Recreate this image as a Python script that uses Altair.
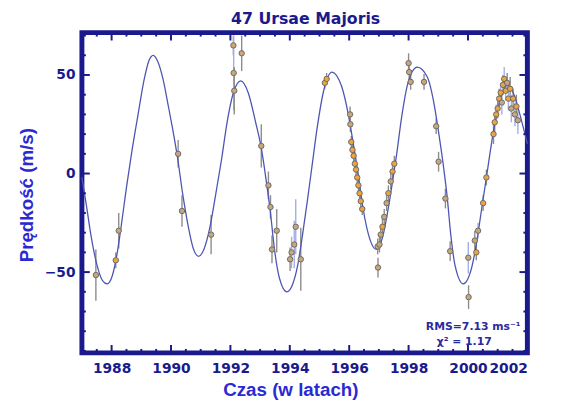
import altair as alt
import pandas as pd

# ---------------- data ----------------
title_text = ["47 Ursae Majoris"]
x_title = ["Czas (w latach)"]
y_title = ["Prędkość (m/s)"]
note_rms = ["RMS=7.13 ms⁻¹"]
note_chi = ["χ² = 1.17"]

# fitted orbit curve
curve_year = [1987.00, 1987.15, 1987.30, 1987.50, 1987.68, 1987.85, 1988.02, 1988.18, 1988.32, 1988.50,
              1988.70, 1988.88, 1989.10, 1989.25, 1989.40, 1989.55, 1989.73, 1989.90, 1990.05, 1990.22,
              1990.40, 1990.57, 1990.75, 1990.93, 1991.12, 1991.30, 1991.49, 1991.70, 1991.90, 1992.10,
              1992.35, 1992.60, 1992.85, 1993.04, 1993.20, 1993.35, 1993.48, 1993.65, 1993.90, 1994.10,
              1994.26, 1994.42, 1994.59, 1994.75, 1994.92, 1995.14, 1995.42, 1995.75, 1995.97, 1996.14,
              1996.30, 1996.47, 1996.69, 1996.91, 1997.13, 1997.30, 1997.46, 1997.60, 1997.76, 1997.98,
              1998.29, 1998.63, 1998.85, 1999.01, 1999.18, 1999.30, 1999.42, 1999.57, 1999.84, 2000.12,
              2000.29, 2000.45, 2000.62, 2000.89, 2001.10, 2001.33, 2001.55, 2001.80, 2002.00]
curve_vel = [-2, -16, -31, -46, -54, -56, -52, -41, -27, -7,
             13, 29, 48, 57, 60, 57, 48, 35, 23, 8,
             -11, -26, -38, -42, -38, -28, -12, 7, 27, 41,
             47, 41, 26, 13, -3, -20, -38, -53, -60, -56,
             -47, -32, -14, 4, 23, 42, 51.5, 44, 30, 15,
             0, -18, -33, -38.5, -32, -19, -4, 10, 28, 46,
             54, 49, 36, 21, 3, -12, -31, -47, -56, -48,
             -35, -19, -2, 24, 38, 45, 40, 27, 15]

# observations: time, velocity, error, fill group, error-bar group
obs_year = [1987.47, 1988.14, 1988.24, 1990.24, 1990.37, 1991.35,
            1992.10, 1992.38, 1992.11, 1992.13, 1993.04, 1993.28, 1993.35, 1993.40, 1993.56,
            1994.01, 1994.06, 1994.15, 1994.20, 1994.37,
            1995.18, 1995.24, 1996.03, 1996.04,
            1996.07, 1996.11, 1996.15, 1996.19, 1996.23, 1996.27, 1996.31, 1996.35, 1996.39, 1996.44,
            1996.96, 1996.97, 1997.02, 1997.06, 1997.12, 1997.18, 1997.26, 1997.32, 1997.40, 1997.46, 1997.52,
            1998.00, 1998.02, 1998.07, 1998.52, 1998.93, 1999.01, 1999.24, 1999.40,
            2000.01, 2000.02, 2000.23, 2000.28, 2000.34, 2000.51, 2000.62,
            2000.86, 2000.90, 2000.95, 2001.00, 2001.05, 2001.10, 2001.14, 2001.18, 2001.22,
            2001.27, 2001.32, 2001.36, 2001.42, 2001.46, 2001.52, 2001.58, 2001.63, 2001.68]
obs_vel = [-51.5, -44, -29, 10, -19, -31,
           65, 61, 51, 42, 14, -6, -17, -38.5, -29,
           -43.5, -40, -36, -27, -43.5,
           46, 48, 30, 25,
           16, 12, 9, 5, 2, -2, -6, -10, -14, -18,
           -37, -47.7, -36, -31, -27, -22, -15, -10, -4, 1, 5,
           56, 51.5, 46.5, 46.5, 24, 6, -12.7, -39.4,
           -42.7, -62.7, -34, -40, -29, -15, -2,
           20, 26, 30, 33, 38, 41, 36, 45, 48,
           42, 46, 38, 43, 33, 38, 30, 34, 27]
obs_err = [13, 4, 9, 7, 8, 10,
           5, 9, 19, 12, 11, 7, 6, 7, 11,
           6, 8, 12, 14, 16,
           3, 3, 4, 4,
           3, 3, 3, 3, 3, 3, 3, 3, 3, 3,
           4, 5, 4, 4, 4, 4, 4, 4, 4, 4, 4,
           5, 4, 4, 4, 4, 5, 5, 5,
           8, 6, 5, 4, 4, 4, 4,
           5, 5, 5, 5, 5, 5, 6, 5, 6,
           5, 5, 6, 6, 7, 5, 6, 6, 7]
obs_fill = ["g", "o", "g", "g", "g", "g",
            "g", "g", "g", "g", "g", "g", "g", "g", "g",
            "g", "g", "g", "g", "g",
            "o", "o", "g", "g",
            "o", "o", "o", "o", "o", "o", "o", "o", "o", "o",
            "g", "g", "g", "g", "o", "g", "g", "o", "g", "o", "o",
            "g", "g", "g", "g", "g", "g", "g", "g",
            "g", "g", "g", "o", "g", "o", "o",
            "o", "o", "o", "o", "o", "o", "g", "o", "o",
            "o", "g", "o", "o", "g", "o", "g", "o", "g"]
obs_bar = ["g", "g", "g", "g", "g", "g",
           "g", "g", "b", "g", "g", "g", "g", "g", "g",
           "g", "b", "b", "b", "g",
           "g", "g", "g", "g",
           "g", "g", "g", "g", "g", "g", "g", "g", "g", "g",
           "g", "g", "g", "g", "g", "g", "g", "g", "g", "g", "g",
           "g", "g", "g", "g", "g", "g", "g", "g",
           "b", "g", "g", "g", "b", "g", "g",
           "g", "g", "b", "g", "g", "b", "b", "g", "b",
           "b", "g", "b", "g", "b", "g", "b", "g", "b"]

x_major = [1988, 1990, 1992, 1994, 1996, 1998, 2000, 2002]
x_minor = [1987.5, 1988.5, 1989, 1989.5, 1990.5, 1991, 1991.5, 1992.5, 1993, 1993.5,
           1994.5, 1995, 1995.5, 1996.5, 1997, 1997.5, 1998.5, 1999, 1999.5, 2000.5, 2001, 2001.5]
y_major = [-50, 0, 50]
y_minor = [-90, -80, -70, -60, -40, -30, -20, -10, 10, 20, 30, 40, 60, 70]

# ---------------- chart ----------------
W, H = 452, 325
NAVY = "#1a1a8c"
BLUE = "#2a2ad2"

xs = alt.Scale(domain=[1987, 2002], nice=False, zero=False)
ys = alt.Scale(domain=[-91, 71.5], nice=False, zero=False)

curve_df = pd.DataFrame({"t": curve_year, "v": curve_vel})
obs_df = pd.DataFrame({"t": obs_year, "v": obs_vel, "e": obs_err, "f": obs_fill, "b": obs_bar})
obs_df["lo"] = obs_df["v"] - obs_df["e"]
obs_df["hi"] = obs_df["v"] + obs_df["e"]

x_axis = alt.Axis(values=x_major, format="d", ticks=False, domain=False, grid=False,
                  labelFont="DejaVu Sans", labelFontWeight="bold", labelFontSize=14,
                  labelColor=NAVY, labelPadding=9, title=None)
y_axis = alt.Axis(values=y_major, ticks=False, domain=False, grid=False,
                  labelFont="DejaVu Sans", labelFontWeight="bold", labelFontSize=14,
                  labelColor=NAVY, labelPadding=7, title=None)

bars = alt.Chart(obs_df).mark_rule(strokeWidth=1.4).encode(
    x=alt.X("t:Q", scale=xs, axis=x_axis),
    y=alt.Y("lo:Q", scale=ys, axis=y_axis),
    y2="hi:Q",
    color=alt.Color("b:N", scale=alt.Scale(domain=["g", "b"], range=["#8c8c8c", "#a4aee6"]), legend=None),
)

line = alt.Chart(curve_df).mark_line(interpolate="monotone", color="#4c56b2", strokeWidth=1.3).encode(
    x=alt.X("t:Q", scale=xs), y=alt.Y("v:Q", scale=ys)
)

pts = alt.Chart(obs_df).mark_circle(size=30, stroke="#6a6a6a", strokeWidth=1, opacity=1).encode(
    x=alt.X("t:Q", scale=xs), y=alt.Y("v:Q", scale=ys),
    fill=alt.Fill("f:N", scale=alt.Scale(domain=["g", "o"], range=["#c9a77a", "#eea33c"]), legend=None),
)

def xticks(vals, length):
    d = pd.DataFrame({"t": vals})
    bot = alt.Chart(d).mark_rule(color=NAVY, strokeWidth=2).encode(
        x=alt.X("t:Q", scale=xs), y=alt.value(H), y2=alt.value(H - length))
    top = alt.Chart(d).mark_rule(color=NAVY, strokeWidth=2).encode(
        x=alt.X("t:Q", scale=xs), y=alt.value(0), y2=alt.value(length))
    return [bot, top]

def yticks(vals, length):
    d = pd.DataFrame({"v": vals})
    left = alt.Chart(d).mark_rule(color=NAVY, strokeWidth=2).encode(
        y=alt.Y("v:Q", scale=ys), x=alt.value(0), x2=alt.value(length))
    right = alt.Chart(d).mark_rule(color=NAVY, strokeWidth=2).encode(
        y=alt.Y("v:Q", scale=ys), x=alt.value(W), x2=alt.value(W - length))
    return [left, right]

def label(txt, x, y, size, color, weight="bold", angle=0, align="center", font="DejaVu Sans"):
    props = dict(fontSize=size, color=color, fontWeight=weight, align=align,
                 baseline="middle", font=font)
    if angle:
        props["angle"] = angle
    return alt.Chart(pd.DataFrame({"s": txt})).mark_text(**props).encode(
        text="s:N", x=alt.value(x), y=alt.value(y))

layers = [bars, line, pts]
layers += xticks(x_major, 8) + xticks(x_minor, 4) + yticks(y_major, 8) + yticks(y_minor, 4)
layers += [
    label(title_text, 227, -14, 16, NAVY),
    label(y_title, -56, 165, 19, BLUE, weight="bold", angle=270, font="Liberation Sans"),
    label(x_title, 212, 363, 19, BLUE, weight="bold", font="Liberation Sans"),
    label(note_rms, 349, 299, 11, "#2a2aa0", align="left"),
    label(note_chi, 360, 314, 11, "#2a2aa0", align="left"),
]

chart = alt.layer(*layers).properties(
    width=W, height=H,
    autosize="none",
    padding={"left": 75, "top": 22, "right": 26, "bottom": 57},
    background="white",
).configure_view(stroke=NAVY, strokeWidth=5)

chart.save("out.html", embed_options={"renderer": "svg", "actions": False})
